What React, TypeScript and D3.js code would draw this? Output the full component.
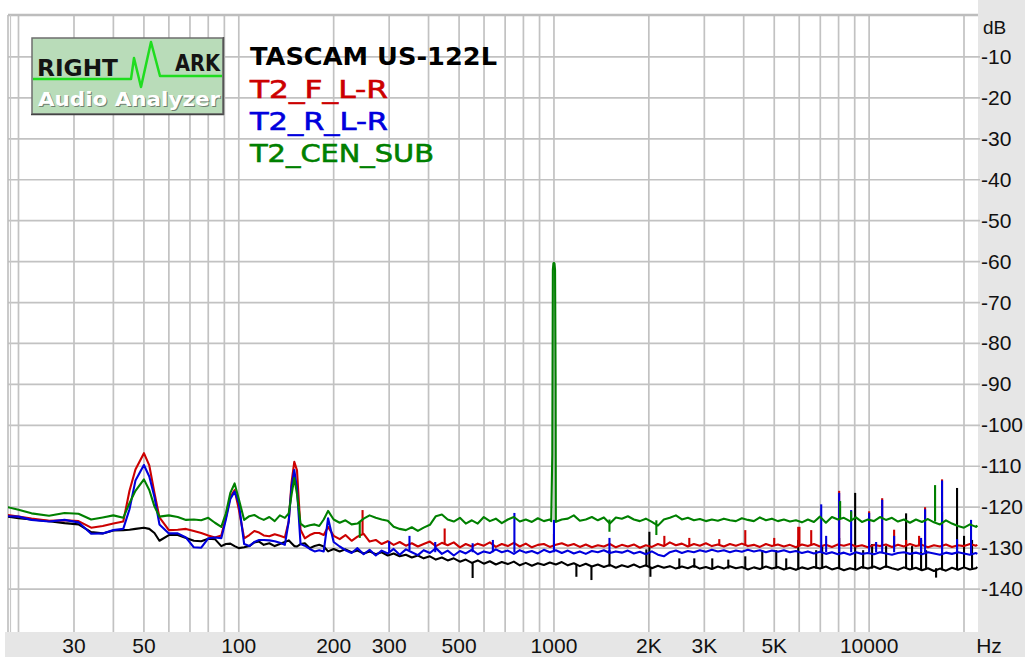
import React from 'react';
import * as d3 from 'd3';

// ---------- DATA ----------
const FREQ_LOW = [18.5, 20, 22, 25, 28, 31, 34, 37, 40, 43, 45, 47, 50, 52, 54, 56, 60, 64, 68, 72, 76, 80, 84, 88, 91, 94, 97, 100, 104, 108, 112, 116, 120, 125, 130, 135, 140, 144, 147, 150, 153, 157, 162, 168, 174, 180, 186, 192];
const FREQ_MID = [200, 209, 218, 228, 238, 249, 260, 272, 284, 297, 310, 324, 339, 354, 370, 386, 404, 422, 441, 460, 481, 503, 525, 549, 573, 599, 626, 654, 683, 714, 746, 779, 814, 851, 889, 929, 970, 1014, 1059, 1107, 1156, 1208, 1262, 1319, 1378, 1440, 1504, 1572, 1642, 1716, 1793, 1873, 1957, 2045, 2137, 2232, 2332, 2437, 2546, 2660, 2780, 2904, 3034, 3170, 3312, 3461, 3616, 3778, 3947, 4124, 4309, 4502, 4704, 4915, 5135, 5365, 5606, 5857, 6120, 6394, 6680, 6980, 7293, 7620, 7961, 8318, 8691, 9081, 9488, 9913, 10358, 10822, 11307, 11814, 12344, 12897, 13475, 14079, 14710, 15369, 16058, 16778, 17530, 18315, 19136, 19994, 20890, 21826, 22050];

const BLACK_LOW = [-122.3, -122.7, -123.0, -123.4, -123.9, -124.2, -126.1, -126.4, -125.7, -125.6, -125.5, -125.3, -125.0, -125.3, -126.3, -128.2, -126.8, -126.8, -127.5, -128.2, -128.3, -127.7, -127.8, -129.5, -129.0, -128.9, -129.5, -130.0, -129.8, -129.5, -128.6, -128.4, -129.2, -128.8, -129.5, -129.0, -128.5, -128.1, -128.8, -129.5, -129.6, -129.0, -128.8, -130.0, -129.5, -129.2, -129.6, -130.8];
const RED_LOW = [-121.9, -122.3, -122.8, -123.3, -123.2, -123.4, -125.0, -124.6, -124.0, -123.5, -116.0, -110.8, -106.8, -109.8, -116.5, -122.5, -125.6, -125.5, -125.3, -125.8, -126.3, -126.9, -127.4, -126.9, -122.5, -117.5, -115.8, -120.5, -127.6, -126.8, -125.8, -126.2, -126.9, -127.1, -126.6, -127.0, -127.4, -123.5, -114.0, -108.9, -111.0, -125.5, -127.6, -126.8, -126.3, -126.3, -126.8, -124.8];
const BLUE_LOW = [-122.2, -122.3, -123.1, -123.5, -123.1, -123.7, -126.5, -126.4, -125.6, -125.3, -120.5, -113.5, -109.7, -112.5, -117.5, -124.2, -126.4, -126.4, -127.4, -129.8, -129.9, -127.6, -127.4, -127.6, -123.0, -118.0, -116.2, -119.0, -129.0, -129.5, -128.5, -128.0, -128.0, -128.1, -128.3, -128.7, -129.2, -123.5, -115.0, -110.9, -115.5, -129.0, -129.4, -130.2, -130.8, -130.5, -130.8, -122.7];
const GREEN_LOW = [-120.0, -120.6, -121.5, -122.1, -121.4, -121.6, -123.0, -122.5, -122.0, -122.6, -119.0, -116.0, -113.2, -115.8, -119.8, -122.3, -122.0, -122.4, -123.1, -123.0, -123.2, -122.6, -123.8, -124.8, -121.5, -116.5, -114.2, -118.0, -123.1, -122.2, -121.9, -122.6, -123.1, -122.4, -123.4, -122.0, -122.6, -121.5, -117.0, -112.9, -116.8, -124.0, -124.8, -124.4, -124.2, -124.6, -123.0, -120.9];

const BLACK_MID = [
  -130.2, -130.8, -130.3, -131.0, -130.6, -131.3, -130.8, -131.5, -131.0, -131.8,
  -131.3, -132.0, -131.6, -132.3, -131.8, -132.5, -132.0, -132.8, -132.3, -133.0,
  -132.5, -133.3, -132.8, -133.6, -133.0, -133.8, -133.2, -134.0, -133.4, -133.9,
  -133.3, -134.2, -133.6, -134.3, -133.7, -134.1, -133.5, -134.0, -133.4, -134.2,
  -133.7, -134.4, -133.8, -134.5, -134.0, -134.6, -134.1, -134.8, -134.2, -134.6,
  -134.0, -134.7, -134.2, -134.9, -134.3, -134.8, -134.4, -135.0, -134.5, -134.9,
  -134.3, -135.0, -134.6, -135.1, -134.5, -135.0, -134.4, -134.9, -134.6, -135.2,
  -134.7, -135.1, -134.5, -135.0, -134.6, -135.2, -134.8, -135.3, -134.7, -135.1,
  -134.6, -135.0, -134.5, -135.2, -134.8, -135.4, -134.9, -135.3, -134.6, -135.0,
  -134.5, -135.1, -134.4, -134.9, -135.3, -134.7, -135.2, -134.8, -135.4, -134.9,
  -135.6, -135.0, -135.5, -134.8, -135.3, -134.7, -135.2, -134.9, -134.6];
const RED_MID = [
  -127.0, -127.8, -126.8, -128.2, -127.2, -126.5, -128.4, -128.0, -129.0, -128.3,
  -129.2, -128.5, -129.4, -128.8, -129.6, -129.0, -128.4, -129.5, -128.7, -129.3,
  -128.6, -129.8, -129.0, -129.6, -128.9, -129.4, -128.6, -129.7, -129.0, -129.5,
  -128.7, -129.6, -128.9, -129.8, -129.2, -129.0, -129.7, -129.2, -128.8, -129.4,
  -129.0, -129.7, -129.1, -129.8, -129.3, -129.6, -129.0, -129.8, -129.2, -129.6,
  -129.1, -129.9, -129.3, -129.7, -129.0, -129.5, -128.6, -129.3, -128.9, -129.6,
  -129.0, -129.4, -128.8, -129.5, -129.1, -129.6, -129.0, -129.4, -128.9, -129.5,
  -129.2, -129.7, -129.0, -129.5, -129.1, -129.6, -129.2, -129.8, -129.1, -129.5,
  -129.0, -129.6, -129.2, -129.7, -129.1, -129.4, -129.0, -129.6, -129.3, -129.8,
  -129.2, -129.5, -129.1, -129.7, -129.2, -129.6, -129.0, -129.5, -129.2, -129.8,
  -129.3, -129.6, -129.1, -129.7, -129.3, -129.5, -129.0, -129.4, -129.2];
const BLUE_MID = [
  -128.5, -129.6, -130.5, -131.2, -130.0, -131.5, -130.4, -131.8, -130.6, -131.3,
  -130.2, -131.6, -130.3, -131.0, -131.7, -130.5, -131.2, -130.0, -131.4, -130.6,
  -131.8, -130.7, -131.3, -130.4, -131.5, -130.8, -131.2, -130.3, -131.0, -130.6,
  -131.4, -130.5, -131.1, -130.7, -131.3, -130.4, -131.0, -130.5, -131.2, -130.6,
  -131.3, -130.8, -131.4, -130.7, -131.0, -130.5, -131.2, -130.8, -131.1, -130.6,
  -131.3, -130.9, -131.5, -130.8, -131.6, -132.0, -131.0, -130.6, -131.2, -130.7,
  -131.0, -130.5, -130.9, -130.4, -130.8, -130.5, -131.0, -130.6, -130.9, -130.4,
  -130.8, -130.5, -131.0, -130.6, -130.9, -130.5, -131.0, -130.7, -131.2, -130.8,
  -131.3, -130.9, -131.4, -131.0, -131.5, -131.1, -131.6, -131.0, -131.4, -131.2,
  -131.5, -131.0, -131.3, -131.6, -131.2, -131.0, -131.4, -131.1, -131.5, -131.0,
  -131.3, -131.6, -131.1, -131.4, -131.0, -131.3, -131.6, -131.2, -131.4];
const GREEN_MID = [
  -123.0, -123.8, -123.2, -124.2, -124.0, -122.8, -122.0, -122.6, -123.0, -123.3,
  -124.8, -125.3, -125.6, -124.9, -125.8, -125.0, -124.3, -122.2, -121.8, -123.0,
  -123.5, -122.6, -124.0, -123.2, -124.0, -122.4, -123.4, -122.8, -123.9, -123.0,
  -122.4, -123.5, -123.0, -123.6, -122.7, -123.4, -123.0, -123.6, -123.0, -122.8,
  -122.0, -123.3, -123.0, -122.4, -123.2, -122.5, -124.0, -122.5, -122.8, -122.2,
  -123.0, -123.4, -122.8, -123.6, -124.5, -123.0, -122.6, -122.0, -123.0, -122.6,
  -123.2, -122.9, -123.4, -123.0, -123.3, -122.8, -123.2, -123.4, -122.7, -123.1,
  -123.4, -122.5, -123.2, -122.8, -123.4, -123.0, -123.5, -123.2, -123.7, -123.0,
  -123.6, -122.3, -123.8, -122.4, -123.0, -122.6, -123.4, -122.5, -123.6, -123.0,
  -123.4, -122.4, -123.1, -122.6, -123.5, -123.0, -123.8, -123.0, -123.6, -122.9,
  -123.7, -124.2, -123.2, -124.0, -124.6, -125.0, -124.2, -124.8, -124.5];

// 1 kHz test tone on the CEN_SUB channel
const GREEN_PEAK_F = [980, 988, 992, 996, 1000, 1004, 1008, 1012, 1018];
const GREEN_PEAK_DB = [-123.4, -107, -62, -60.4, -60.3, -60.5, -62, -88, -123.5];

// narrow spectral lines: [frequency, from dB, to dB]
const BLACK_SPIKES = [
  [552, -133.5, -137.3], [1178, -134.0, -137.0], [1315, -134.5, -137.8], [1500, -134.5, -130.5],
  [1964, -134.5, -130.3], [2008, -134.5, -126.0], [2023, -134.5, -137.0], [2499, -135, -132.5],
  [2788, -134.8, -132.5], [3179, -135, -132.5], [3574, -135, -132.8], [4046, -135, -132],
  [4581, -135, -130.5], [5073, -135, -130.5], [5457, -135.2, -132.5], [5957, -135.2, -128],
  [6792, -135, -130.5], [7097, -135, -129.5], [8033, -135, -127.5], [9029, -135.3, -116.5],
  [9572, -135, -130.5], [10221, -135, -129], [11321, -134.8, -129.5], [13100, -135, -121.5],
  [13685, -135, -129.5], [14617, -135.2, -128], [15162, -135, -130.5], [16310, -134.9, -137.2],
  [17035, -135.4, -121.2], [19008, -135.3, -115.3], [20003, -134.7, -127], [21210, -134.9, -128]];
const RED_SPIKES = [
  [247, -126.5, -120.7], [450, -129, -125.2], [1000, -129.3, -126.5], [2240, -129.3, -127],
  [2688, -129.3, -127.5], [3346, -129.3, -127.8], [4046, -129.3, -125.6], [4999, -129.3, -127.5],
  [5957, -129.3, -124.8], [6010, -129.3, -124.8], [6550, -129.3, -125.6], [8033, -129.3, -116.0],
  [10000, -129.3, -121.0], [11000, -129.3, -117.8], [12003, -129.3, -125.5], [13100, -129.3, -128],
  [14407, -129.3, -127], [15050, -129.3, -120.0], [17035, -129.3, -113.2]];
const BLUE_SPIKES = [
  [300, -131, -128.3], [348, -130.5, -127.0], [420, -131, -128.5], [552, -131, -128.8],
  [640, -131, -128.0], [749, -131, -121.4], [1000, -131, -123.1], [1500, -131, -127.5],
  [7046, -131, -119.3], [7305, -131, -127], [8033, -131, -116.5], [8769, -131, -120.7],
  [10000, -131, -121.4], [10524, -131, -128.5], [11000, -131, -118.2], [12003, -131, -127.0],
  [14617, -131, -127.5], [15050, -131, -120.5], [17035, -131.3, -113.5], [19008, -131, -127.8],
  [21054, -131.5, -123.1]];
const GREEN_SPIKES = [
  [242, -123.5, -127.5], [1500, -123.0, -126.0], [2113, -123.2, -126.8], [8091, -123.0, -118.5],
  [8769, -123.2, -121.0], [16190, -123.5, -114.6]];

const GRID_FREQS = [20, 30, 40, 50, 60, 70, 80, 90, 100, 200, 300, 400, 500, 600, 700, 800, 900, 1000, 2000, 3000, 4000, 5000, 6000, 7000, 8000, 9000, 10000, 20000];
const X_TICKS = [30, 50, 100, 200, 300, 500, 1000, 2000, 3000, 5000, 10000];
const X_TICK_LABELS = ['30', '50', '100', '200', '300', '500', '1000', '2K', '3K', '5K', '10000'];
const Y_TICKS = [-10, -20, -30, -40, -50, -60, -70, -80, -90, -100, -110, -120, -130, -140];

const TITLE = 'TASCAM US-122L';
const SERIES_NAMES = ['T2_F_L-R', 'T2_R_L-R', 'T2_CEN_SUB'];

// ---------- LAYOUT ----------
const W = 1025, H = 657;
const PL = 8, PR = 978, PT = 15, PB = 632;
const COLORS = { black: '#000000', red: '#cc0000', blue: '#0000dd', green: '#008000' };
const LABEL_FONT = '"Liberation Sans", Arial, sans-serif';
const LEG_FONT = '"DejaVu Sans", Verdana, sans-serif';

export default function App() {
  const x = d3.scaleLog().domain([20, 20000]).range([18.5, 964]);
  const y = d3.scaleLinear().domain([0, -150]).range([16, 630]);
  const freqs = [...FREQ_LOW, ...FREQ_MID];

  const build = (low: number[], mid: number[], ef?: number[], ev?: number[]) => {
    const pts: [number, number][] = freqs.map((f, i) => [f, i < low.length ? low[i] : mid[i - low.length]]);
    if (ef && ev) ef.forEach((f, i) => pts.push([f, ev[i]]));
    pts.sort((a, b) => a[0] - b[0]);
    return pts;
  };
  const line = d3.line<[number, number]>().x(d => x(d[0])).y(d => y(d[1]));

  const traces = [
    { color: COLORS.black, pts: build(BLACK_LOW, BLACK_MID), spikes: BLACK_SPIKES },
    { color: COLORS.red, pts: build(RED_LOW, RED_MID), spikes: RED_SPIKES },
    { color: COLORS.blue, pts: build(BLUE_LOW, BLUE_MID), spikes: BLUE_SPIKES },
    { color: COLORS.green, pts: build(GREEN_LOW, GREEN_MID, GREEN_PEAK_F, GREEN_PEAK_DB), spikes: GREEN_SPIKES },
  ];

  const legendColors = [COLORS.red, COLORS.blue, COLORS.green];
  const legendLens = [138, 138, 184];

  return (
    <svg width={W} height={H} style={{ position: 'absolute', left: 0, top: 0, background: '#fff' }}>
      <defs>
        <clipPath id="plotclip"><rect x={PL} y={PT} width={PR - PL} height={PB - PT} /></clipPath>
      </defs>
      <rect x={0} y={0} width={W} height={H} fill="#ffffff" />
      <rect x={PR} y={0} width={W - PR} height={H} fill="#e6e6e6" />
      <rect x={5} y={PB} width={W - 5} height={H - PB} fill="#e6e6e6" />

      {/* grid */}
      {GRID_FREQS.map(f => (
        <line key={'gx' + f} x1={x(f)} x2={x(f)} y1={PT} y2={PB} stroke="#c2c2c2" strokeWidth={1.7} />
      ))}
      {Y_TICKS.map(v => (
        <line key={'gy' + v} x1={PL} x2={PR + 2} y1={y(v)} y2={y(v)} stroke="#c2c2c2" strokeWidth={1.7} />
      ))}
      <line x1={PL} x2={PR} y1={PT} y2={PT} stroke="#bdbdbd" strokeWidth={2.5} />
      <line x1={PL} x2={PL} y1={PT} y2={PB} stroke="#bdbdbd" strokeWidth={1.6} />
      <line x1={PL + 2.5} x2={PL + 2.5} y1={PT} y2={PB} stroke="#c8c8c8" strokeWidth={1.2} />

      {/* traces */}
      <g clipPath="url(#plotclip)">
        {traces.map((t, k) => (
          <g key={'t' + k}>
            <path d={line(t.pts) || ''} fill="none" stroke={t.color} strokeWidth={2.1} strokeLinejoin="round" />
            {t.spikes.map((s, j) => (
              <line key={j} x1={x(s[0])} x2={x(s[0])} y1={y(s[1])} y2={y(s[2])} stroke={t.color} strokeWidth={2.1} />
            ))}
          </g>
        ))}
      </g>

      {/* axis labels */}
      {X_TICKS.map((f, i) => (
        <text key={'xl' + f} x={x(f)} y={653} textAnchor="middle" fontFamily={LABEL_FONT} fontSize={21} fill="#111">{X_TICK_LABELS[i]}</text>
      ))}
      <text x={989} y={653} textAnchor="middle" fontFamily={LABEL_FONT} fontSize={21} fill="#111">Hz</text>
      {Y_TICKS.map(v => (
        <text key={'yl' + v} x={981} y={y(v) + 7} fontFamily={LABEL_FONT} fontSize={21} fill="#111">{String(v)}</text>
      ))}
      <text x={983} y={34} fontFamily={LABEL_FONT} fontSize={19} fill="#111">dB</text>

      {/* logo */}
      <g>
        <rect x={32} y={38} width={191} height={76} fill="#b9dcb9" stroke="#6e6e6e" strokeWidth={1.5} />
        <line x1={31} x2={224} y1={114.5} y2={114.5} stroke="#444" strokeWidth={1.5} />
        <line x1={223.5} x2={223.5} y1={37} y2={115} stroke="#555" strokeWidth={1.5} />
        <polyline points="33,79 131,79 134,58 141,87 151,42 160,76 222,76" fill="none" stroke="#1fdd1f" strokeWidth={2.5} strokeLinejoin="round" />
        <text x={37} y={76} fontFamily={LEG_FONT} fontWeight="bold" fontSize={23} fill="#141414" textLength={81} lengthAdjust="spacingAndGlyphs">RIGHT</text>
        <text x={175} y={71} fontFamily={LEG_FONT} fontWeight="bold" fontSize={23} fill="#141414" textLength={45} lengthAdjust="spacingAndGlyphs">ARK</text>
        <text x={39} y={107} fontFamily={LEG_FONT} fontWeight="bold" fontSize={19} fill="#6f806f" textLength={182} lengthAdjust="spacingAndGlyphs">Audio Analyzer</text>
        <text x={38} y={106} fontFamily={LEG_FONT} fontWeight="bold" fontSize={19} fill="#ffffff" textLength={182} lengthAdjust="spacingAndGlyphs">Audio Analyzer</text>
      </g>

      {/* legend */}
      <text x={250} y={65} fontFamily={LEG_FONT} fontWeight="bold" fontSize={24} fill="#000" textLength={247} lengthAdjust="spacingAndGlyphs">{TITLE}</text>
      {SERIES_NAMES.map((n, i) => (
        <text key={n} x={250} y={97.5 + i * 32.3} fontFamily={LEG_FONT} fontSize={24} fill={legendColors[i]} stroke={legendColors[i]} strokeWidth={0.6} textLength={legendLens[i]} lengthAdjust="spacingAndGlyphs">{n}</text>
      ))}
    </svg>
  );
}
